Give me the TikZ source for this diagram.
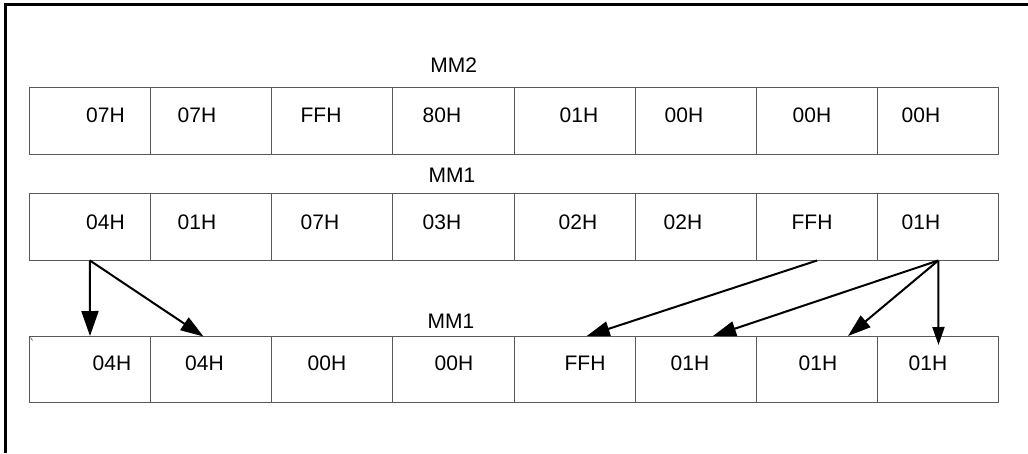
\documentclass[tikz,border=0pt]{standalone}
\usepackage{fontspec}
\setmainfont{Liberation Sans}
\usetikzlibrary{arrows.meta}
\begin{document}
\begin{tikzpicture}[x=1pt,y=-1pt,
  frame/.style={line width=2.2pt,black},
  cell/.style={draw=black!65,line width=0.9pt,minimum width=121.2pt,minimum height=66.7pt,inner sep=0pt},
  txt/.style={anchor=base,inner sep=0pt,font=\fontsize{21}{25}\selectfont},
  arr/.style={line width=2pt,black},
  bighead/.style={-{Triangle[length=25pt,width=17pt]}},
  midhead/.style={-{Triangle[length=23pt,width=15pt]}},
  smallhead/.style={-{Triangle[length=18pt,width=12pt]}}]
\useasboundingbox (0,0) rectangle (1028,453);
\draw[frame] (5.5,453) -- (5.5,4.5) -- (1028,4.5);
% rows of cells
\foreach \i in {1,...,8}{
  \node[cell] (a\i) at ({29.3+121.2*(\i-0.5)},121) {};
  \node[cell] (b\i) at ({29.3+121.2*(\i-0.5)},226.7) {};
  \node[cell] (c\i) at ({29.3+121.2*(\i-0.5)},369.3) {};
}
% labels
\node[txt] (lmm2) at (453.8,72.3) {MM2};
\node[txt] (lmm1a) at (452,182.7) {MM1};
\node[txt] (lmm1b) at (451,328.3) {MM1};
% cell texts
\foreach \x/\t [count=\i] in {105.5/07H,197/07H,321/FFH,442/80H,579/01H,684/00H,812/00H,921/00H}
  \node[txt] (ta\i) at (\x,122.7) {\t};
\foreach \x/\t [count=\i] in {105.5/04H,197/01H,320/07H,442/03H,578/02H,683/02H,812/FFH,921/01H}
  \node[txt] (tb\i) at (\x,229.5) {\t};
\foreach \x/\t [count=\i] in {112/04H,204.5/04H,327/00H,454/00H,585/FFH,690/01H,818/01H,928/01H}
  \node[txt] (tc\i) at (\x,370.7) {\t};
% arrow targets
\coordinate (t1) at (90,336);
\coordinate (t2) at (203.5,336.5);
\coordinate (t3) at (586.7,336);
\coordinate (t4) at (713,336);
\coordinate (t5) at (848,336);
\coordinate (t6) at (938.5,345);
\draw[arr,bighead] (b1.south) -- (t1);
\draw[arr,midhead] (b1.south) -- (t2);
\draw[arr,midhead] (b7.south) -- (t3);
\draw[arr,midhead] (b8.south) -- (t4);
\draw[arr,midhead] (b8.south) -- (t5);
\draw[arr,smallhead] (b8.south) -- (t6);
% small tick
\draw[black!70,line width=0.6pt] (30.5,337.5) -- (32.5,340.5);
\end{tikzpicture}
\end{document}
